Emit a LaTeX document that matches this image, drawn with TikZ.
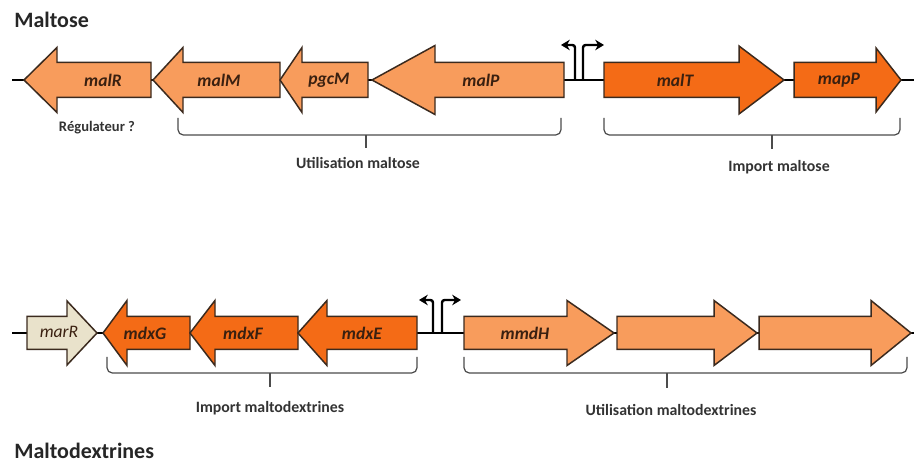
\documentclass[tikz,border=0pt]{standalone}
\usepackage{fontspec}
\setmainfont{Carlito}
\usetikzlibrary{arrows.meta}
\definecolor{lor}{HTML}{F89C5C}
\definecolor{dor}{HTML}{F46B16}
\definecolor{bge}{HTML}{E9E2CB}
\definecolor{outl}{HTML}{3B2A1E}
\definecolor{txt}{HTML}{333333}
\definecolor{gtxt}{HTML}{3A2010}
\newcommand\genearrow[7]{%
  \draw[genebody,#5] (#1,#4-#6)--(#2,#4-#6)--(#2,#4-#7)--(#3,#4)--(#2,#4+#7)--(#2,#4+#6)--(#1,#4+#6)--cycle;}
\begin{document}
\begin{tikzpicture}[x=0.02cm,y=-0.02cm,
  genebody/.style={draw=outl,line width=0.85pt,line join=miter},
  backbone/.style={line width=1.7pt,black},
  glabel/.style={font=\fontsize{10}{12}\selectfont\bfseries\itshape,text=gtxt,inner sep=0pt},
  blabel/.style={font=\fontsize{9}{11}\selectfont\bfseries,text=txt,inner sep=0pt},
  title/.style={font=\fontsize{12.5}{14}\selectfont\bfseries,text=black!85,inner sep=0pt,anchor=west},
  brack/.style={draw=black!70,line width=0.7pt,rounded corners=3pt},
  prom/.style={line width=1.4pt,black,rounded corners=1.5pt,-{Stealth[length=5pt,width=6pt]}}]
\useasboundingbox (0,0) rectangle (914,462);
% ---------- Maltose ----------
\node[title] (t1) at (14,20) {Maltose};
\coordinate (b1s) at (12,80);
\coordinate (b1e) at (914,80);
\draw[backbone] (b1s) -- (b1e);
\genearrow{151}{57}{24}{80}{fill=lor}{17.5}{32.5}
\genearrow{280}{183}{153}{80}{fill=lor}{17.5}{32.5}
\genearrow{368}{302}{280}{80}{fill=lor}{17.5}{32.5}
\genearrow{564}{435}{372}{80}{fill=lor}{17.5}{34.5}
\genearrow{604}{739}{784}{80}{fill=dor}{17.5}{34}
\genearrow{794}{876}{901}{80}{fill=dor}{17.5}{32}
\node[glabel] (malR) at (103,80) {malR};
\node[glabel] (malM) at (219,80) {malM};
\node[glabel] (pgcM) at (329,80) {pgcM};
\node[glabel] (malP) at (481,80) {malP};
\node[glabel] (malT) at (675,80) {malT};
\node[glabel] (mapP) at (839,80) {mapP};
% promoter
\draw[prom] (575,80) -- (575,45) -- (561,45);
\draw[prom] (583,80) -- (583,45) -- (604,45);
% labels / brackets
\node[blabel,font=\fontsize{8.3}{10}\selectfont\bfseries] (reg) at (97,128) {Régulateur ?};
\draw[brack] (178,118) -- (178,135) -- (561,135) -- (561,118);
\draw[brack,rounded corners=0pt] (366,135) -- (366,148);
\node[blabel] (um) at (358,163) {Utilisation maltose};
\draw[brack] (604,118) -- (604,135) -- (900,135) -- (900,118);
\draw[brack,rounded corners=0pt] (772,135) -- (772,149);
\node[blabel] (im) at (779,167) {Import maltose};
% ---------- Maltodextrines ----------
\coordinate (b2s) at (12,333);
\coordinate (b2e) at (914,333);
\draw[backbone] (b2s) -- (b2e);
\genearrow{27}{67}{97}{333}{fill=bge}{16.5}{32}
\genearrow{190}{127}{103}{333}{fill=dor}{16.5}{32.5}
\genearrow{298}{215}{190}{333}{fill=dor}{16.5}{32.5}
\genearrow{417}{327}{298}{333}{fill=dor}{16.5}{32.5}
\genearrow{464}{567}{614}{333}{fill=lor}{16.5}{32.5}
\genearrow{617}{714}{757}{333}{fill=lor}{16.5}{32.5}
\genearrow{759}{871}{911}{333}{fill=lor}{16.5}{32.5}
\node[glabel,font=\fontsize{10}{12}\selectfont\itshape] (marR) at (59,332) {marR};
\node[glabel] (mdxG) at (145,333) {mdxG};
\node[glabel] (mdxF) at (243,333) {mdxF};
\node[glabel] (mdxE) at (362,333) {mdxE};
\node[glabel] (mmdH) at (525,333) {mmdH};
% promoter
\draw[prom] (433,333) -- (433,300) -- (419,300);
\draw[prom] (442,333) -- (442,300) -- (461,300);
% brackets
\draw[brack] (107,357) -- (107,373) -- (417,373) -- (417,357);
\draw[brack,rounded corners=0pt] (270,373) -- (270,387);
\node[blabel] (imd) at (270,408) {Import maltodextrines};
\draw[brack] (464,357) -- (464,373) -- (907,373) -- (907,357);
\draw[brack,rounded corners=0pt] (667,373) -- (667,388);
\node[blabel] (umd) at (671,410) {Utilisation maltodextrines};
\node[title] (t2) at (14,451) {Maltodextrines};
\end{tikzpicture}
\end{document}
